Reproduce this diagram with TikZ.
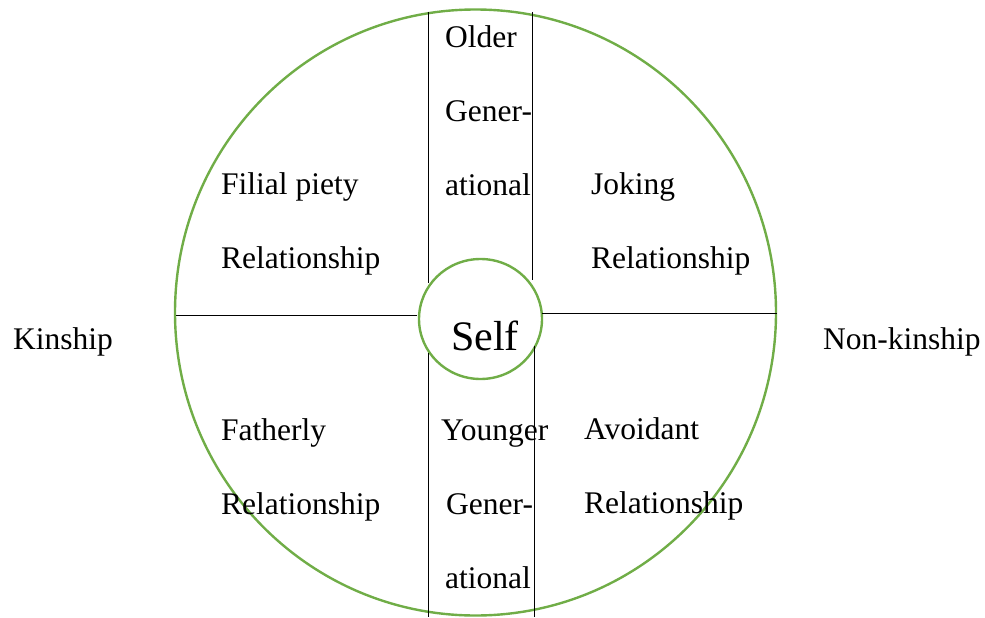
\documentclass[tikz,border=0pt]{standalone}
\usepackage{fontspec}
\setmainfont{Liberation Serif}
\usetikzlibrary{
    positioning,  % relative placement
    shapes.geometric,  % ellipse shape
}
\definecolor{ringgreen}{RGB}{112,173,71}
\tikzset{
    ring/.style={ellipse, draw=ringgreen, line width=2.4pt, inner sep=0pt},
    divider/.style={draw=black, line width=1pt},
    % anchored on the baseline of the last line
    lbl/.style={anchor=base west, align=left, inner sep=0pt,
        font=\fontsize{31.5}{74}\selectfont},
}

\begin{document}
\begin{tikzpicture}[x=1pt, y=-1pt]
    \useasboundingbox (0, 0) rectangle (985, 618);

    \node[ring, minimum width=601pt, minimum height=606pt] (outer) at (475.5, 312.5) {};
    \node[ring, minimum width=123pt, minimum height=120pt] (self) at (480.5, 319) {};

    % end points of the dividing lines
    \coordinate (tl1) at (428, 12);
    \coordinate (tl2) at (428, 283);
    \coordinate (tr1) at (532, 12);
    \coordinate (tr2) at (532, 280);
    \coordinate (bl1) at (428, 353);
    \coordinate (bl2) at (428, 617);
    \coordinate (br1) at (534, 346);
    \coordinate (br2) at (534, 617);
    \coordinate (hl1) at (176, 315);
    \coordinate (hl2) at (417, 315);
    \coordinate (hr1) at (542, 313);
    \coordinate (hr2) at (777, 313);
    \draw[divider] (tl1) -- (tl2);
    \draw[divider] (tr1) -- (tr2);
    \draw[divider] (bl1) -- (bl2);
    \draw[divider] (br1) -- (br2);
    \draw[divider] (hl1) -- (hl2);
    \draw[divider] (hr1) -- (hr2);

    \node[lbl] (older) at (445, 195) {Older\\Gener-\\ational};
    \node[lbl] (filial) at (221, 268) {Filial piety\\Relationship};
    \node[lbl] (joking) at (591, 268) {Joking\\Relationship};
    \node[lbl] (kin) at (13, 349) {Kinship};
    \node[lbl] (nonkin) at (823, 349) {Non-kinship};
    \node[lbl, font=\fontsize{42}{50}\selectfont] (selftext) at (451, 350) {Self};
    \node[lbl] (fatherly) at (221, 514) {Fatherly\\Relationship};
    \node[lbl] (avoidant) at (584, 513) {Avoidant\\Relationship};
    \node[lbl] (younger) at (441, 588) {Younger\\\hspace*{5pt}Gener-\\\hspace*{4pt}ational};
\end{tikzpicture}
\end{document}
